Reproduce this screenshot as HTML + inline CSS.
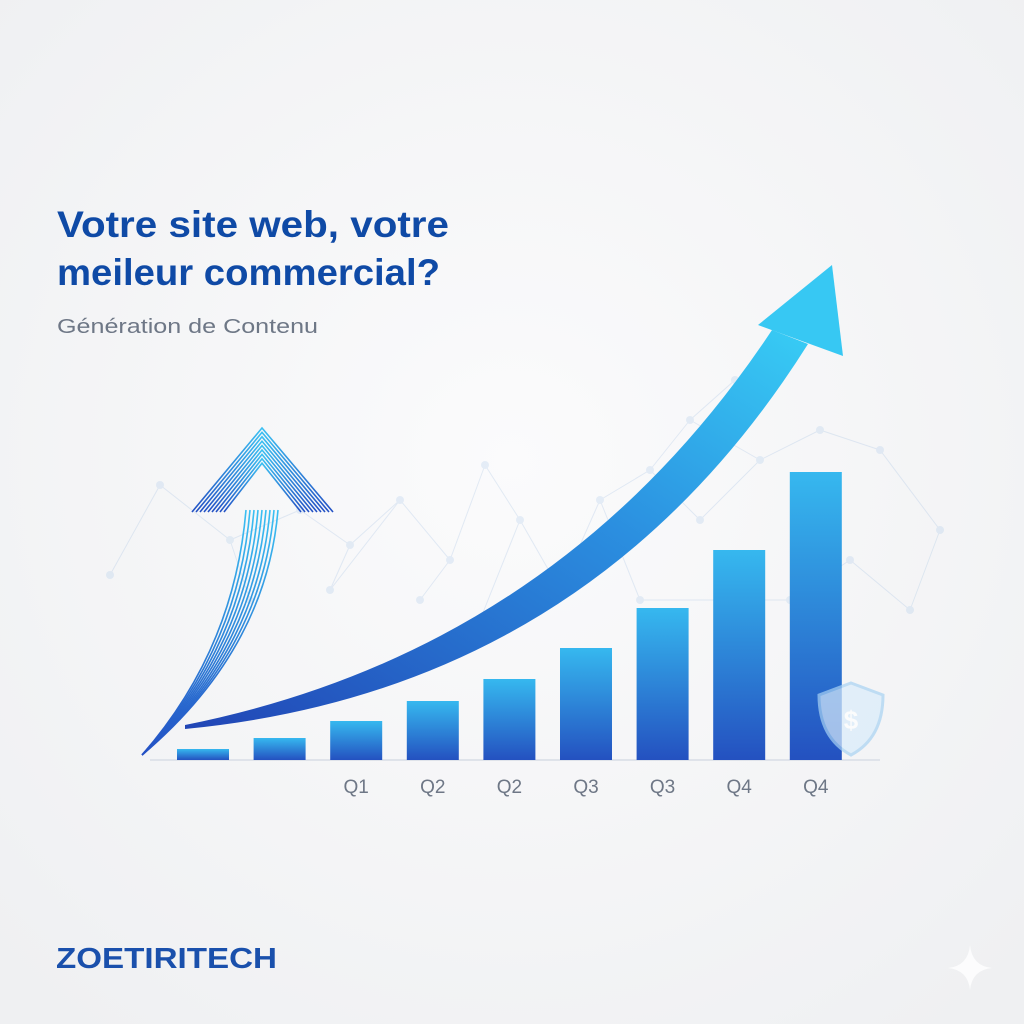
<!DOCTYPE html>
<html><head><meta charset="utf-8"><style>
html,body{margin:0;padding:0;background:#f4f5f7;}
svg{display:block;font-family:"Liberation Sans",sans-serif;}
</style></head><body>
<svg id="chart" width="1024" height="1024" viewBox="0 0 1024 1024">
<defs>
<radialGradient id="bg" cx="0.5" cy="0.45" r="0.7"><stop offset="0" stop-color="#fbfbfc"/><stop offset="1" stop-color="#eff0f2"/></radialGradient>
<linearGradient id="barg" x1="0" y1="0" x2="0" y2="1"><stop offset="0" stop-color="#36b8ef"/><stop offset="1" stop-color="#2451c0"/></linearGradient>
<linearGradient id="arrg" x1="0" y1="1" x2="1" y2="0"><stop offset="0" stop-color="#2145b5"/><stop offset="0.6" stop-color="#2b8fe0"/><stop offset="1" stop-color="#38cdf5"/></linearGradient>
<linearGradient id="strg" x1="0" y1="1" x2="0" y2="0"><stop offset="0" stop-color="#2350c4"/><stop offset="1" stop-color="#3bc0f2"/></linearGradient>
</defs>
<rect width="1024" height="1024" fill="url(#bg)"/>
<g id="net" opacity="0.2"></g>
<text x="57" y="237" font-size="37" font-weight="bold" fill="#0f4aa6" textLength="392" lengthAdjust="spacingAndGlyphs">Votre site web, votre</text>
<text x="57" y="285" font-size="37" font-weight="bold" fill="#0f4aa6" textLength="383" lengthAdjust="spacingAndGlyphs">meileur commercial?</text>
<text x="57" y="333" font-size="20" fill="#6e7786" textLength="261" lengthAdjust="spacingAndGlyphs">Génération de Contenu</text>
<line x1="150" y1="760" x2="880" y2="760" stroke="#dfe3ea" stroke-width="2"/>
<g id="bars"></g>
<g id="labels"></g>
<g id="striped" fill="none" stroke="url(#strg)" stroke-width="1.6"></g>
<path d="M185,725 Q560,650 772,330 L808,344 Q590,690 185,729 Z" fill="url(#arrg)"/>
<polygon points="758,325 832,265 843,356" fill="#37c8f3"/>
<g opacity="0.7">
<path d="M851,683 L883,695 Q883,738 851,755 Q819,738 819,695 Z" fill="#d9ecfb" stroke="#a8d2f3" stroke-width="3"/>
<text x="851" y="729" font-size="26" font-weight="bold" fill="#fff" text-anchor="middle">$</text>
</g>
<text x="56" y="968" font-size="29" font-weight="bold" fill="#1a50ac" textLength="221" lengthAdjust="spacingAndGlyphs">ZOETIRITECH</text>
<path d="M970,945 Q972,966 992,968 Q972,970 970,990 Q968,970 948,968 Q968,966 970,945 Z" fill="#ffffff" opacity="0.8"/>
<script>
const values=[11,22,39,59,81,112,152,210,288];
const labels=["","","Q1","Q2","Q2","Q3","Q3","Q4","Q4"];
const x0=177, step=76.6, bw=52, base=760, ky=1;
const NS="http://www.w3.org/2000/svg";
const xs=i=>x0+i*step, ys=v=>base-v*ky;
const bars=document.getElementById('bars'), lab=document.getElementById('labels');
values.forEach((v,i)=>{
 const r=document.createElementNS(NS,'rect');
 r.setAttribute('x',xs(i));r.setAttribute('y',ys(v));r.setAttribute('width',bw);r.setAttribute('height',base-ys(v));
 r.setAttribute('fill','url(#barg)');
 
 
 bars.appendChild(r);
 if(labels[i]){
  const t=document.createElementNS(NS,'text');
  t.setAttribute('x',xs(i)+bw/2);t.setAttribute('y',793);t.setAttribute('text-anchor','middle');
  t.setAttribute('font-size','19');t.setAttribute('fill','#6e7786');t.textContent=labels[i];
  
  
  lab.appendChild(t);
 }
});
const st=document.getElementById('striped');
for(let k=0;k<9;k++){
 const o=k*4-16;
 const p=document.createElementNS(NS,'path');
 p.setAttribute('d',`M142,755 Q${250+o},${650} ${262+o},${510}`);
 st.appendChild(p);
 const h=document.createElementNS(NS,'path');
 const d=k*4;
 h.setAttribute('d',`M${192+d},${512} L262,${428+d*1.1} L${333-d},${512}`);
 st.appendChild(h);
}
const net=document.getElementById('net');
const pts=[[160,485],[230,540],[300,510],[350,545],[400,500],[450,560],[485,465],[520,520],[560,590],[600,500],[650,470],[700,520],[760,460],[820,430],[880,450],[940,530],[910,610],[850,560],[790,600],[640,600],[420,600],[330,590],[250,600],[110,575],[480,620],[690,420],[735,380]];
const links=[[0,1],[1,2],[2,3],[3,4],[4,5],[5,6],[6,7],[7,8],[8,9],[9,10],[10,11],[11,12],[12,13],[13,14],[14,15],[15,16],[16,17],[17,18],[18,19],[19,9],[20,5],[21,3],[22,1],[23,0],[24,8],[25,12],[26,25],[4,21],[7,24],[10,25]];
links.forEach(([a,b])=>{const l=document.createElementNS(NS,'line');l.setAttribute('x1',pts[a][0]);l.setAttribute('y1',pts[a][1]);l.setAttribute('x2',pts[b][0]);l.setAttribute('y2',pts[b][1]);l.setAttribute('stroke','#7fa8d8');l.setAttribute('stroke-width','1');net.appendChild(l);});
pts.forEach(p=>{const c=document.createElementNS(NS,'circle');c.setAttribute('cx',p[0]);c.setAttribute('cy',p[1]);c.setAttribute('r',4);c.setAttribute('fill','#8fb7e4');net.appendChild(c);});
</script>
</svg>
</body></html>
